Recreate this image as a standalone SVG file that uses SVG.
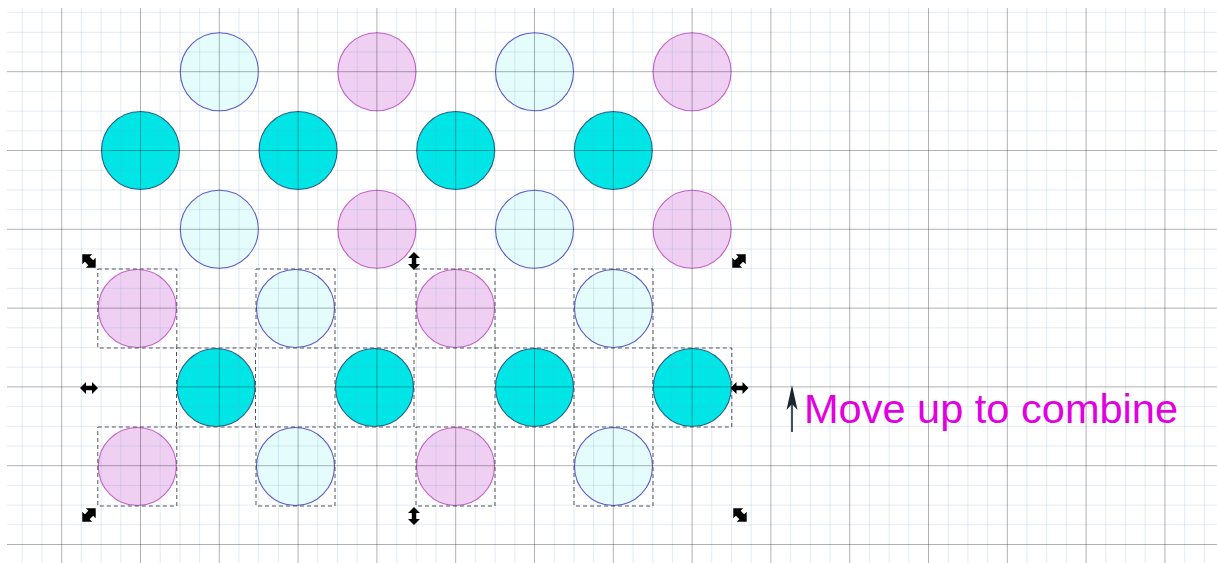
<svg xmlns="http://www.w3.org/2000/svg" width="1217" height="563" viewBox="0 0 1217 563">
<style>
.lt{fill:#e4fcfc;stroke:#5a5ac8;stroke-width:1.1}
.pk{fill:#efd0f3;stroke:#c460c6;stroke-width:1.1}
.cy{fill:#00e5e6;stroke:#215f88;stroke-width:1.1}
.box{fill:none;stroke:#555;stroke-width:1;stroke-dasharray:4 3}
.minor{fill:none;stroke:#7aa6cc;stroke-opacity:0.22;stroke-width:1}
.major{fill:none;stroke:#000;stroke-opacity:0.3;stroke-width:1}
.hdl{fill:#000}
.lbl{font-family:"Liberation Sans",Arial,sans-serif;font-size:41px;fill:#e000e0}
</style>
<defs>
<path id="hd" d="M-9,0 L-3,-6 L-3,-2.2 L3,-2.2 L3,-6 L9,0 L3,6 L3,2.2 L-3,2.2 L-3,6 Z"/>
<path id="hc" d="M-9.5,0 L-2.5,-7 L-2.5,-3.4 L2.5,-3.4 L2.5,-7 L9.5,0 L2.5,7 L2.5,3.4 L-2.5,3.4 L-2.5,7 Z"/>
</defs>
<rect width="1217" height="563" fill="#fff"/>
<g id="nodes">
<g id="r1c1"><circle class="lt" cx="219.3" cy="71.7" r="39"/></g>
<g id="r1c2"><circle class="pk" cx="376.9" cy="71.7" r="39"/></g>
<g id="r1c3"><circle class="lt" cx="534.5" cy="71.7" r="39"/></g>
<g id="r1c4"><circle class="pk" cx="692.1" cy="71.7" r="39"/></g>
<g id="r2c1"><circle class="cy" cx="140.5" cy="150.5" r="39"/></g>
<g id="r2c2"><circle class="cy" cx="298.1" cy="150.5" r="39"/></g>
<g id="r2c3"><circle class="cy" cx="455.7" cy="150.5" r="39"/></g>
<g id="r2c4"><circle class="cy" cx="613.3" cy="150.5" r="39"/></g>
<g id="r3c1"><circle class="lt" cx="219.3" cy="229.3" r="39"/></g>
<g id="r3c2"><circle class="pk" cx="376.9" cy="229.3" r="39"/></g>
<g id="r3c3"><circle class="lt" cx="534.5" cy="229.3" r="39"/></g>
<g id="r3c4"><circle class="pk" cx="692.1" cy="229.3" r="39"/></g>
<g id="r4c1"><circle class="pk" cx="137.3" cy="308.5" r="39"/></g>
<g id="r4c2"><circle class="lt" cx="295.5" cy="308.5" r="39"/></g>
<g id="r4c3"><circle class="pk" cx="455.5" cy="308.5" r="39"/></g>
<g id="r4c4"><circle class="lt" cx="613.5" cy="308.5" r="39"/></g>
<g id="r5c1"><circle class="cy" cx="216" cy="387.5" r="39"/></g>
<g id="r5c2"><circle class="cy" cx="374.5" cy="387.5" r="39"/></g>
<g id="r5c3"><circle class="cy" cx="534.5" cy="387.5" r="39"/></g>
<g id="r5c4"><circle class="cy" cx="692.3" cy="387.5" r="39"/></g>
<g id="r6c1"><circle class="pk" cx="137.3" cy="466.5" r="39"/></g>
<g id="r6c2"><circle class="lt" cx="295.5" cy="466.5" r="39"/></g>
<g id="r6c3"><circle class="pk" cx="455.5" cy="466.5" r="39"/></g>
<g id="r6c4"><circle class="lt" cx="613.5" cy="466.5" r="39"/></g>
</g>
<g id="grid">
<path class="minor" d="M22.3,8V563M42,8V563M81.4,8V563M101.1,8V563M120.8,8V563M160.2,8V563M179.9,8V563M199.6,8V563M239,8V563M258.7,8V563M278.4,8V563M317.8,8V563M337.5,8V563M357.2,8V563M396.6,8V563M416.3,8V563M436,8V563M475.4,8V563M495.1,8V563M514.8,8V563M554.2,8V563M573.9,8V563M593.6,8V563M633,8V563M652.7,8V563M672.4,8V563M711.8,8V563M731.5,8V563M751.2,8V563M790.6,8V563M810.3,8V563M830,8V563M869.4,8V563M889.1,8V563M908.8,8V563M948.2,8V563M967.9,8V563M987.6,8V563M1027,8V563M1046.7,8V563M1066.4,8V563M1105.8,8V563M1125.5,8V563M1145.2,8V563M1184.6,8V563M1204.3,8V563
M7,12.6H1217M7,32.3H1217M7,52H1217M7,91.4H1217M7,111.1H1217M7,130.8H1217M7,170.2H1217M7,189.9H1217M7,209.6H1217M7,249H1217M7,268.7H1217M7,288.4H1217M7,327.8H1217M7,347.5H1217M7,367.2H1217M7,406.6H1217M7,426.3H1217M7,446H1217M7,485.4H1217M7,505.1H1217M7,524.8H1217"/>
<path class="major" d="M61.7,8V563M140.5,8V563M219.3,8V563M298.1,8V563M376.9,8V563M455.7,8V563M534.5,8V563M613.3,8V563M692.1,8V563M770.9,8V563M849.7,8V563M928.5,8V563M1007.3,8V563M1086.1,8V563M1164.9,8V563
M7,71.7H1217M7,150.5H1217M7,229.3H1217M7,308.1H1217M7,386.9H1217M7,465.7H1217M7,544.5H1217"/>
</g>
<g id="selection">
<rect class="box" x="97.8" y="269" width="79" height="79"/>
<rect class="box" x="256" y="269" width="79" height="79"/>
<rect class="box" x="416" y="269" width="79" height="79"/>
<rect class="box" x="574" y="269" width="79" height="79"/>
<rect class="box" x="176.5" y="348" width="79" height="79"/>
<rect class="box" x="335" y="348" width="79" height="79"/>
<rect class="box" x="495" y="348" width="79" height="79"/>
<rect class="box" x="652.8" y="348" width="79" height="79"/>
<rect class="box" x="97.8" y="427" width="79" height="79"/>
<rect class="box" x="256" y="427" width="79" height="79"/>
<rect class="box" x="416" y="427" width="79" height="79"/>
<rect class="box" x="574" y="427" width="79" height="79"/>
</g>
<g id="handles" class="hdl">
<use href="#hc" transform="translate(89,261) rotate(45)"/>
<use href="#hd" transform="translate(414,261) rotate(90)"/>
<use href="#hc" transform="translate(739,261) rotate(-45)"/>
<use href="#hd" transform="translate(89,388)"/>
<use href="#hd" transform="translate(739.5,388)"/>
<use href="#hc" transform="translate(89,515) rotate(-45)"/>
<use href="#hd" transform="translate(414,516) rotate(90)"/>
<use href="#hc" transform="translate(740,515) rotate(45)"/>
</g>
<g id="connectors">
<path d="M792,432V404" stroke="#1a2530" stroke-width="1.6" fill="none"/>
<path d="M792,385 L786.5,410 L792,404 L797.5,410 Z" fill="#1a2530"/>
</g>
<g id="label">
<text class="lbl" x="804" y="423" textLength="374" lengthAdjust="spacingAndGlyphs">Move up to combine</text>
</g>
</svg>
